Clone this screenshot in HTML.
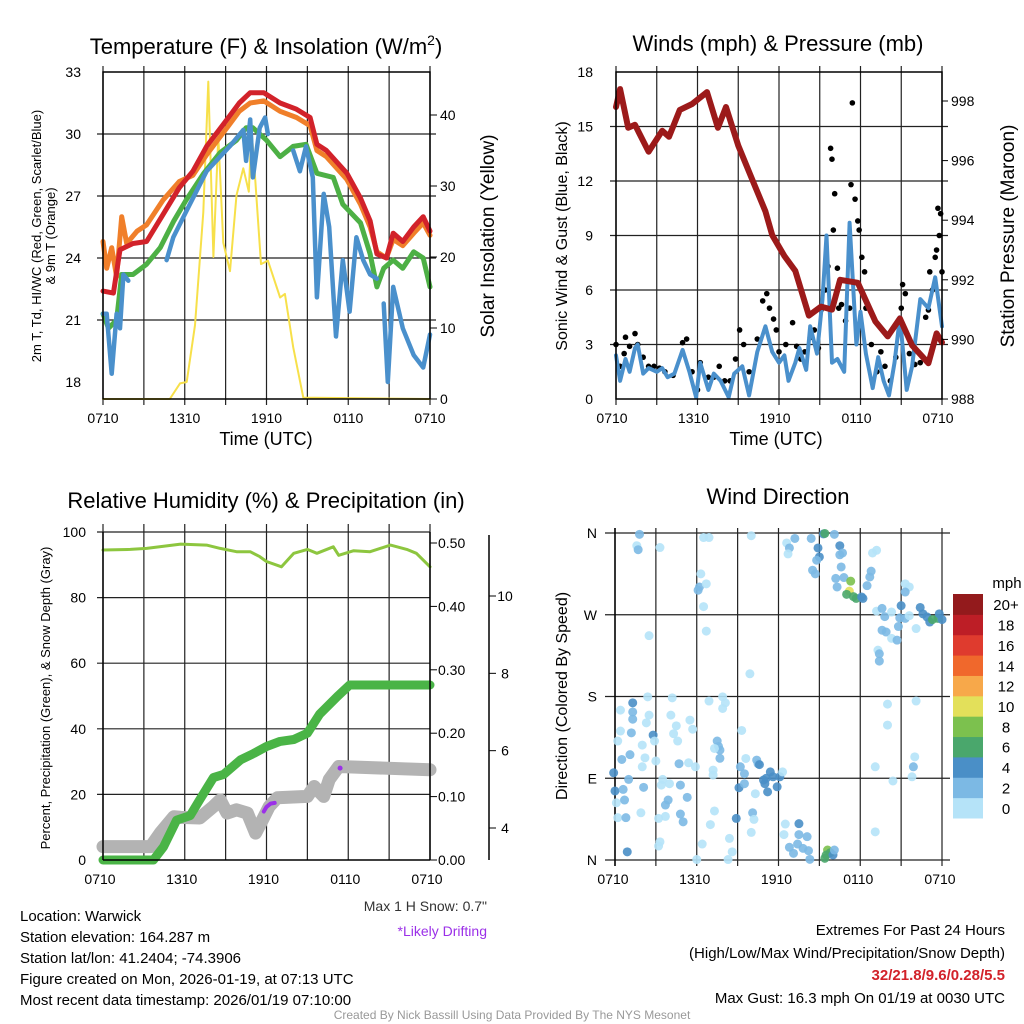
<!DOCTYPE html>
<html><head><meta charset="utf-8"><style>
body{margin:0;background:#fff}
svg{display:block;font-family:"Liberation Sans",sans-serif}
</style></head><body>
<svg id="s" width="1024" height="1024" viewBox="0 0 1024 1024"></svg>
<script>
// ---- Panel 1 data (hours since 0710 UTC) ----
const redHours=[0,0.76,1.25,2.2,3.2,4.4,5.6,6.6,7.6,9.1,10,10.8,11.8,13,14.2,15.2,15.7,16.4,17.9,18.9,19.6,20.1,20.8,21.3,22,22.8,23.5,24];
const tempRed=[22.4,22.3,24.4,24.7,24.8,26.1,27.4,28.2,29.4,30.7,31.5,32.0,32.0,31.5,31.2,30.8,29.5,29.2,28.1,26.9,25.8,24.2,24.0,25.2,24.8,25.5,26.0,25.3];
const orangeHours=[0,0.27,0.64,1.0,1.37,1.74,2.5,3.2,4.4,5.6,6.6,7.6,9.1,10,10.8,11.8,13,14.2,15.2,15.7,16.4,17.9,18.9,19.6,20.1,20.8,21.3,22,22.8,23.5,24];
const tempOrange=[24.8,23.5,24.5,23.1,26.0,24.7,25.3,25.6,26.8,27.7,28.0,29.0,30.3,31.1,31.5,31.6,31.1,30.8,30.4,29.2,28.9,27.8,26.6,25.5,24.3,24.0,24.9,24.6,25.2,25.7,25.1];
const greenHours=[0,0.4,1.0,1.37,2.2,3.2,4.2,5.2,6.1,7.4,8.6,9.8,10.5,11.0,12.0,13.0,13.96,14.9,15.7,16.9,17.6,18.9,19.6,20.1,20.6,21.3,22.0,22.8,23.5,24];
const dewGreen=[21.3,20.6,21.0,23.2,23.2,23.7,24.5,25.8,26.8,28.1,29.1,29.7,30.3,30.3,29.7,28.9,29.4,29.5,28.1,27.9,26.6,25.7,24.2,22.6,23.5,23.9,23.5,24.3,24.0,22.6];
const blueHours=[0,0.27,0.64,1.0,1.25,1.5,1.86,2.5,4.67,5.16,6.14,7.6,9.3,10.3,10.5,10.8,11.0,11.5,11.9,12.1,12.5,13.0,13.4,13.96,14.45,14.9,15.4,15.7,16.2,16.6,17.1,17.6,18.1,18.6,19.1,19.6,20.1,20.35,20.6,20.9,21.3,22.0,22.8,23.5,24];
const hiwcBlue=[21.3,21.3,18.4,21.3,20.6,23.2,22.9,NaN,23.9,25.0,26.3,28.2,29.4,30.2,28.7,30.7,27.9,30.3,30.8,30.0,NaN,30.3,NaN,29.2,28.2,29.4,27.9,22.1,27.1,25.5,20.2,23.9,21.4,25.0,23.9,23.2,23.0,NaN,21.8,18.0,22.6,20.6,19.3,18.7,20.3];
const solarHours=[0,4.9,5.65,6.14,6.75,7.36,7.73,8.1,8.46,8.83,9.32,9.8,10.3,10.7,10.9,11.15,11.6,12.1,13,13.35,13.96,14.7,24];
const solar=[0,0,2.2,2.4,10.4,26.3,44.7,20,37,22,18,28.7,32.5,29.2,38,31.6,19,19.5,14.3,14.8,7.3,0.2,0];
// ---- Panel 2 data ----
const pHours=[0,0.3,0.9,1.4,2.4,3.4,3.9,4.7,5.6,6.7,7.5,8.1,9.0,10,11,11.5,12.4,13.2,14.2,15.1,15.9,16.5,17.8,19.1,20.0,20.9,21.8,23.0,23.6,24];
const pressure=[997.8,998.4,997.1,997.2,996.3,997.0,996.8,997.7,997.9,998.3,997.1,997.8,996.5,995.4,994.3,993.5,992.8,992.3,990.8,991.1,991.0,992.0,991.9,990.6,990.1,990.7,989.8,989.2,990.2,989.9];
const windHours=[0,0.3,0.7,1.0,1.4,1.6,2.0,2.4,3.0,3.4,3.8,4.3,4.9,5.4,5.9,6.2,6.8,7.2,7.7,8.3,8.7,9.3,9.8,10.4,11.0,11.5,12.0,12.4,12.7,13.2,13.5,14.0,14.3,14.8,15.2,15.5,15.9,16.3,16.8,17.2,17.7,18.0,18.4,18.9,19.3,19.7,20.1,20.5,20.9,21.4,21.8,22.4,23.0,23.5,24];
const wind=[2.4,1.0,2.2,1.5,2.8,3.0,1.4,1.7,1.5,1.7,1.2,1.4,2.7,1.5,0.1,2.0,0.5,1.4,1.0,0.1,1.4,1.8,0.2,2.6,4.0,2.6,2.0,2.4,1.0,2.0,2.8,1.6,4.0,2.5,5.5,9.0,2.0,2.2,1.5,9.7,3.0,4.8,2.5,0.6,2.3,1.0,0.2,2.0,4.5,0.5,1.8,5.5,5.0,6.7,4.0];
const gustHours=[0,0.3,0.6,0.7,1.0,1.4,1.6,2.0,2.4,2.8,3.2,3.6,4.2,4.9,5.2,5.6,6.0,6.2,6.8,7.2,7.6,8.0,8.4,8.8,9.1,9.4,9.8,10.4,10.8,11.1,11.3,11.6,11.8,12.0,12.5,13.0,13.3,13.6,13.9,14.3,14.6,14.9,15.1,15.4,15.6,15.8,15.9,16.0,16.1,16.3,16.4,16.6,16.9,17.2,17.3,17.4,17.6,17.8,17.9,18.1,18.3,18.4,18.8,19.2,19.5,19.8,20.2,20.6,21.0,21.1,21.3,21.6,22.0,22.4,22.8,23.0,23.1,23.3,23.5,23.6,23.7,23.8,23.9,24];
const gust=[3.0,1.8,2.5,3.4,2.9,3.6,3.0,2.3,1.8,1.8,1.7,1.5,1.3,3.1,3.3,1.5,0.5,2.0,1.2,1.2,1.8,1.0,1.0,2.2,3.8,3.0,1.5,3.3,5.4,5.8,5.0,4.4,3.8,2.6,3.0,4.2,2.9,2.2,2.6,3.4,3.8,2.8,4.9,6.0,7.3,13.8,13.2,9.3,11.3,7.2,5.0,5.2,4.3,5.0,11.8,16.3,11.0,9.8,9.3,7.8,7.0,5.0,3.0,1.5,2.6,1.8,1.0,2.3,5.0,6.3,5.8,2.5,1.9,2.0,4.5,4.9,7.0,6.0,7.8,8.2,10.5,9.0,10.2,7.0];
// ---- Panel 3 data ----
const rhHours=[0,2.0,3.2,5.7,7.6,8.6,9.8,10.8,11.5,12.0,13.1,14.0,15.0,15.7,16.9,17.3,18.4,19.6,21.1,22.3,23.0,24];
const rh=[94.5,94.7,95.0,96.3,96.0,95.0,94.0,94.0,92.5,91.0,89.4,93.5,94.7,93.5,95.5,92.9,94.3,94.0,96.0,94.7,93.5,89.4];
const precipHours=[0,3.7,4.45,5.4,6.4,7.1,8.1,8.85,10.1,11.05,12.0,13.0,14.0,15.0,15.9,17.2,18.1,24];
const precip=[0,0,0.021,0.063,0.07,0.095,0.13,0.135,0.158,0.168,0.179,0.187,0.19,0.2,0.23,0.258,0.276,0.276];
const snowHours=[0,3.5,4.2,5.2,5.7,7.1,8.1,8.6,9.1,9.8,10.6,11.2,11.7,12.2,12.8,15.0,15.5,16.2,16.6,17.3,24];
const snowPct=[4.1,4.1,8.2,13.2,13.0,12.8,16.3,18.3,14.3,15.3,14.3,8.2,12.2,16.3,19.0,19.4,22.4,19.4,24.5,28.5,27.5];
const driftHours=[11.8,12.0,12.3,12.6];
const driftPct=[14.8,16.2,17.2,17.4];
const snowTicks=[4,6,8,10];
// ---- Panel 4 data: [hour, direction deg, speed mph] ----
const dirPts=[[1.8,358.5,2],[1.6,346,0.8],[1.7,341.6,2],[3.3,344,0.8],[6.5,355,0.8],[6.9,355,0.8],[10,357,0.8],[6.3,315,0.8],[6.1,297,2],[6.2,300.6,2],[6.7,304,0.8],[6.5,279,0.8],[6.7,252,0.8],[2.5,247,0.8],[9.9,205,0.8],
[12.6,349,0.8],[12.8,343.5,2],[12.7,337,0.8],[13.2,354,2],[14.4,354,2],[14.9,343.5,4],[15,333.6,4],[14.8,330,2],[15.3,359,4.5],[15.4,359.5,6],[16.1,358.5,2],[16.5,346,4],[16.5,336,2],[16.7,338,2],[16.6,322.6,2],[14.5,319,2],[14.7,315,2],[16.2,310,2],[16.3,300.6,2],[16.8,311,2],[17.3,307,8],[17.2,296,10],[17,292.5,6],[17.5,290,6],[17.7,288,6],[18.1,289.6,4.5],[18.2,288,4.5],[18.5,302,2],[18.7,311.6,2],[18.8,318,2],[18.9,338,0.8],[19.2,341,0.8],[21.3,304,0.8],[21.6,300.6,0.8],[21.3,295,2],[19.2,274,0.8],[19.6,277,2],[19.8,268,2],[21,280,4.5],[20.3,273,0.8],[20.9,266.5,2],[21.3,266,2],[22.4,278,4],[22.6,271,4.5],[22.9,267.6,4],[23.1,262,4.5],[23.3,264.7,6],[23.7,266,6],[23.8,271,4.5],[24,264.7,4.5],[21.6,269,0.8],[22.1,254.8,0.8],[19.6,253,2],[19.9,251,2],[20.3,244,0.8],[20.7,242,2],[20.8,257,2],[19.3,231,0.8],[19.4,227,2],[19.4,219,2],
[0.4,165,0.8],[1.3,173,4],[1.3,163,2],[1.3,155,2],[2.4,179.6,0.8],[2.5,159.5,0.8],[0.4,142,0.8],[1.2,140,2],[2.3,151,0.8],[2.8,137.5,4],[2.9,131,0.8],[2,126.5,0.8],[0.2,131,0.8],[0.5,110.7,2],[1.1,116,2],[2.2,112.5,0.8],[3,109,0.8],[2,102.6,0.8],[-0.1,96,4],[0,76,4],[0.6,77.7,2],[1,88.7,2],[0.1,63,0.8],[0.7,66,2],[0.2,46.6,0.8],[0.8,46.6,2],[2.1,80,2],[1.9,52,0.8],[0.9,9,4],[4.2,178.5,0.8],[4.1,159.5,0.8],[4.5,147.7,0.8],[4.3,139,0.8],[4.6,131,0.8],[4.7,106,2],[5.4,107,0.8],[5.5,154,0.8],[5.7,144,0.8],[4,84,0.8],[3.5,88.7,0.8],[3.4,82.5,0.8],[4.8,82.5,2],[5.3,69,2],[3.9,66,2],[3.7,60.5,2],[3.7,48,0.8],[3.2,45.8,0.8],[4.8,50.6,2],[5,42,2],[3.3,20,0.8],[3.2,15.4,0.8],[6,0.5,0.8],[6.4,17.6,0.8],[5.9,102.6,0.8],[6.9,175,0.8],[7.9,179.6,0.8],[8.1,173,0.8],[7.9,166.8,0.8],[7.5,131,2],[7.6,125,2],[7.7,121,2],[7.3,122.8,0.8],[7.7,112,2],[9.3,142.6,0.8],[7.2,99,0.8],[7.2,93.5,0.8],[9.2,102.6,2],[9.6,111.8,0.8],[9.5,95,2],[9.1,79.6,4],[9.5,84,2],[10.4,110,2],[10.5,106,2],[10.6,105,4],[10.9,88,4.5],[11,84,4.5],[11.1,90,4.5],[11.4,97,4.5],[11.6,91.6,4],[11.9,80.6,4],[12.1,91.6,4],[12.3,97,0.8],[11.2,75,4],[10.3,73,0.8],[7.3,54,0.8],[7,39,0.8],[8.9,45.8,4],[10.1,52,2],[10.2,44.7,0.8],[10,30.4,0.8],[8.4,23.8,0.8],[8.6,9,0.8],[8.3,0.5,0.8],[12.5,39.6,0.8],[12.4,28,0.8],[13.5,40,4],[13.5,28,2],[14.1,25.7,2],[12.8,14,2],[13.1,7.3,2],[13.4,17.6,2],[13.8,12.8,2],[14.2,10.3,2],[14.3,0.7,2],[15.6,11,8],[15.8,8,6],[15.5,5.5,6],[15.4,1.8,6],[16,5.5,4.5],[16.1,11,2],[19.1,31,0.8],[20,171.6,0.8],[20,148.5,0.8],[22.1,175,0.8],[22,113.6,0.8],[21.9,102.6,2],[21.8,91.6,0.8],[20.4,87,0.8],[19.1,102.6,0.8]];
const speedColors=["#b5e3f8","#7cb9e4","#4a8fc7","#4aa76c","#7cc14e","#e3e05a","#f7a84a","#f0682c","#df3b2e","#bd1e26","#931a1c"];
const speedLabels=["0","2","4","6","8","10","12","14","16","18","20+"];
const timeLabels=["0710","1310","1910","0110","0710"];

const S=document.getElementById('s');
const NS="http://www.w3.org/2000/svg";
function mk(tag,attrs,parent,name,inter){const e=document.createElementNS(NS,tag);for(const k in attrs)e.setAttribute(k,attrs[k]);(parent||S).appendChild(e);


return e;}
function txt(x,y,s,size,opts,name){opts=opts||{};const t=mk('text',{x:x,y:y,'font-size':size,'text-anchor':opts.a||'middle',fill:opts.fill||'#000','font-weight':opts.w||'normal'},opts.p,name);if(opts.rot)t.setAttribute('transform','rotate(-90 '+x+' '+y+')');t.textContent=s;return t;}
function lin(d0,d1,r0,r1){return v=>r0+(v-d0)*(r1-r0)/(d1-d0);}
function path(xs,ys,fx,fy,attrs,name){let d='',pen=false;xs.forEach((h,i)=>{const v=ys[i];if(isNaN(v)){pen=false;return;}d+=(pen?'L':'M')+fx(h).toFixed(1)+','+fy(v).toFixed(1);pen=true;});return mk('path',Object.assign({d:d,fill:'none','stroke-linejoin':'round','stroke-linecap':'round'},attrs),null,name);}
function line(x1,y1,x2,y2,w,c,name){return mk('line',{x1:x1,y1:y1,x2:x2,y2:y2,stroke:c||'#000','stroke-width':w||1},null,name||'grid-line');}

// ===== Panel 1 =====
(function(){
const X=lin(0,24,103,430), Y=lin(18,33,382,72), Y2=lin(0,40,399,115);
for(let h=0;h<=24;h+=3)line(X(h),66,X(h),405,1.2,'#222','p1-vgrid');
for(let v=21;v<=30;v+=3)line(97,Y(v),436,Y(v),1.2,'#222','p1-hgrid');
path(solarHours,solar,X,Y2,{stroke:'#f7e04a','stroke-width':2},'solar-insolation-line');
path(orangeHours,tempOrange,X,Y,{stroke:'#f07f2a','stroke-width':5},'9m-temp-line');
path(redHours,tempRed,X,Y,{stroke:'#d2222a','stroke-width':5},'2m-temp-line');
path(greenHours,dewGreen,X,Y,{stroke:'#4db045','stroke-width':5},'dewpoint-line');
path(blueHours,hiwcBlue,X,Y,{stroke:'#4a90cc','stroke-width':4.5},'hi-wc-line');
mk('rect',{x:103,y:72,width:327,height:327,fill:'none',stroke:'#000','stroke-width':1.5},null,'p1-frame');
[18,21,24,27,30,33].forEach(v=>{txt(81,Y(v)+5,String(v),14,{a:'end'},'p1-ytick-label');});
[0,10,20,30,40].forEach(v=>{txt(440,Y2(v)+5,String(v),14,{a:'start'},'p1-y2tick-label');line(430,Y2(v),437,Y2(v),1,'#000','p1-y2tick');});
timeLabels.forEach((l,i)=>{txt(X(i*6),423,l,14,{},'p1-xtick-label');});
txt(266,445,'Time (UTC)',18,{},'p1-x-axis-title');
const t=txt(266,54,'',22,{},'p1-title');
t.innerHTML='Temperature (F) &amp; Insolation (W/m<tspan dy="-9" font-size="14">2</tspan><tspan dy="9">)</tspan>';
txt(41,236,'2m T, Td, HI/WC (Red, Green, Scarlet/Blue)',13,{rot:1},'p1-y-axis-title');
txt(55,236,'& 9m T (Orange)',13,{rot:1},'p1-y-axis-title-2');
txt(494,236,'Solar Insolation (Yellow)',19,{rot:1},'p1-y2-axis-title');
})();

// ===== Panel 2 =====
(function(){
const X=lin(0,24,616,942), Y=lin(0,18,399,72), Y2=lin(988,998,399,101);
for(let h=0;h<=24;h+=3)line(X(h),66,X(h),405,1.2,'#222','p2-vgrid');
for(let v=3;v<=15;v+=3)line(610,Y(v),948,Y(v),1.2,'#222','p2-hgrid');
gustHours.forEach((h,i)=>{mk('circle',{cx:X(h),cy:Y(gust[i]),r:2.8,fill:'#000'},null,'gust-point');});
path(windHours,wind,X,Y,{stroke:'#4a90cc','stroke-width':4},'sonic-wind-line');
path(pHours,pressure,X,Y2,{stroke:'#9c1a1a','stroke-width':6},'station-pressure-line');
mk('rect',{x:616,y:72,width:326,height:327,fill:'none',stroke:'#000','stroke-width':1.5},null,'p2-frame');
[0,3,6,9,12,15,18].forEach(v=>{txt(593,Y(v)+5,String(v),14,{a:'end'},'p2-ytick-label');});
[988,990,992,994,996,998].forEach(v=>{txt(951,Y2(v)+5,String(v),14,{a:'start'},'p2-y2tick-label');line(942,Y2(v),948,Y2(v),1,'#000','p2-y2tick');});
timeLabels.forEach((l,i)=>{txt(X(i*6)-4,423,l,14,{},'p2-xtick-label');});
txt(776,445,'Time (UTC)',18,{},'p2-x-axis-title');
txt(778,51,'Winds (mph) & Pressure (mb)',22,{},'p2-title');
txt(567,236,'Sonic Wind & Gust (Blue, Black)',16,{rot:1},'p2-y-axis-title');
txt(1014,236,'Station Pressure (Maroon)',19,{rot:1},'p2-y2-axis-title');
})();

// ===== Panel 3 =====
(function(){
const X=lin(0,24,103,430), Y=lin(0,100,860,532), Y2=lin(0,0.5,860,543), Ys=lin(4,10,828,596);
for(let h=0;h<=24;h+=3)line(X(h),524,X(h),860,1.2,'#222','p3-vgrid');
for(let v=20;v<=100;v+=20)line(97,Y(v),430,Y(v),1.2,'#222','p3-hgrid');
path(snowHours,snowPct,X,Y,{stroke:'#b3b3b3','stroke-width':13},'snow-depth-line');
path(precipHours,precip,X,Y2,{stroke:'#4ab446','stroke-width':9},'precipitation-line');
path(driftHours,driftPct,X,Y,{stroke:'#9b30e8','stroke-width':4},'drifting-segment');
mk('circle',{cx:X(17.4),cy:Y(28),r:2.5,fill:'#9b30e8'},null,'drifting-point');
path(rhHours,rh,X,Y,{stroke:'#8dc63f','stroke-width':3},'relative-humidity-line');
line(103,532,103,860,1.5,'#000','p3-y-axis');line(103,860,430,860,1.5,'#000','p3-x-axis');line(430,532,430,860,1.5,'#000','p3-y2-axis');
[0,20,40,60,80,100].forEach(v=>{txt(86,Y(v)+5,String(v),14,{a:'end'},'p3-ytick-label');});
[0,0.1,0.2,0.3,0.4,0.5].forEach(v=>{txt(438,Y2(v)+5,v.toFixed(2),14,{a:'start'},'p3-y2tick-label');line(430,Y2(v),437,Y2(v),1,'#000','p3-y2tick');});
line(489,535,489,860,1.5,'#000','snow-axis');
snowTicks.forEach(v=>{txt(505,Ys(v)+5,String(v),14,{},'snow-tick-label');line(489,Ys(v),496,Ys(v),1,'#000','snow-tick');});
timeLabels.forEach((l,i)=>{txt(X(i*6)-3,884,l,14,{},'p3-xtick-label');});
txt(266,508,'Relative Humidity (%) & Precipitation (in)',22,{},'p3-title');
txt(50,698,'Percent, Precipitation (Green), & Snow Depth (Gray)',13,{rot:1},'p3-y-axis-title');
txt(487,911,'Max 1 H Snow: 0.7"',14,{a:'end',fill:'#333'},'max-snow-note');
txt(487,936,'*Likely Drifting',14,{a:'end',fill:'#9b30e8'},'drifting-note');
})();

// ===== Panel 4 =====
(function(){
const X=lin(0,24,615,942), Y=lin(0,360,860,533);
for(let h=0;h<=24;h+=3)line(X(h),528,X(h),866,1.2,'#222','p4-vgrid');
[0,90,180,270,360].forEach(v=>line(605,Y(v),950,Y(v),1.2,'#222','p4-hgrid'));
line(615,528,615,866,1.5,'#000','p4-y-axis');
['N','E','S','W','N'].forEach((l,i)=>txt(597,Y(i*90)+5,l,14,{a:'end'},'p4-ytick-label'));
dirPts.forEach(p=>{const b=Math.min(10,Math.round(p[2]/2));mk('circle',{cx:X(p[0]),cy:Y(p[1]),r:4.5,fill:speedColors[b],'fill-opacity':0.9},null,'direction-point');});
timeLabels.forEach((l,i)=>{txt(X(i*6)-2,884,l,14,{},'p4-xtick-label');});
txt(778,504,'Wind Direction',22,{},'p4-title');
txt(567,696,'Direction (Colored By Speed)',16,{rot:1},'p4-y-axis-title');
const h=224/11;
speedColors.forEach((c,i)=>{const y=818-(i+1)*h;mk('rect',{x:953,y:y,width:30,height:h+0.5,fill:c},null,'colorbar-box');txt(1006,y+h/2+6,speedLabels[i],15,{},'colorbar-label');});
txt(1007,588,'mph',15,{},'colorbar-title');
})();

// ===== Footer text =====
['Location: Warwick','Station elevation: 164.287 m','Station lat/lon: 41.2404; -74.3906','Figure created on Mon, 2026-01-19, at 07:13 UTC','Most recent data timestamp: 2026/01/19 07:10:00'].forEach((s,i)=>txt(20,921+i*21,s,15,{a:'start'},'station-info-line'));
txt(1005,935,'Extremes For Past 24 Hours',15,{a:'end'},'extremes-title');
txt(1005,958,'(High/Low/Max Wind/Precipitation/Snow Depth)',15,{a:'end'},'extremes-subtitle');
txt(1005,980,'32/21.8/9.6/0.28/5.5',15,{a:'end',fill:'#d2222a',w:'bold'},'extremes-values');
txt(1005,1003,'Max Gust: 16.3 mph On 01/19 at 0030 UTC',15,{a:'end'},'max-gust-note');
txt(512,1019,'Created By Nick Bassill Using Data Provided By The NYS Mesonet',12,{fill:'#999'},'credit-line');
</script>
</body></html>
